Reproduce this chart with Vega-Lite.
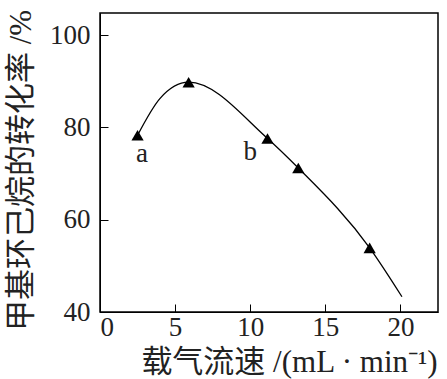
{
  "$schema": "https://vega.github.io/schema/vega-lite/v6.json",
  "autosize": "none",
  "width": 338,
  "height": 299,
  "padding": {"left": 100, "top": 13, "right": 9, "bottom": 67},
  "background": "white",
  "config": {
    "view": {"stroke": "black", "strokeWidth": 1.5},
    "axis": {
      "grid": false,
      "domainColor": "black",
      "tickColor": "black",
      "tickSize": -8,
      "domain": true
    }
  },
  "datasets": {
    "pts": [
      {"x": 2.5, "y": 78.3},
      {"x": 5.9, "y": 89.8},
      {"x": 11.15, "y": 77.6},
      {"x": 13.2, "y": 71.2},
      {"x": 17.95, "y": 53.9}
    ],
    "curve": [
      {"x": 2.5, "y": 78.3},
      {"x": 4.0, "y": 86.3},
      {"x": 5.9, "y": 89.8},
      {"x": 11.15, "y": 77.6},
      {"x": 13.2, "y": 71.2},
      {"x": 17.95, "y": 53.9},
      {"x": 20.1, "y": 43.3}
    ],
    "labels": [
      {"x": 2.8, "y": 74.3, "t": "a"},
      {"x": 10.0, "y": 74.7, "t": "b"}
    ]
  },
  "encoding": {
    "x": {
      "field": "x", "type": "quantitative",
      "scale": {"domain": [0, 22.5], "nice": false, "zero": false},
      "axis": {"values": [0, 5, 10, 15, 20], "title": "载气流速 /(mL · min⁻¹)", "labelFont": "Liberation Serif", "labelFontSize": 27, "labelColor": "#222", "labelPadding": 10, "titleFont": "Liberation Serif, Noto Sans CJK SC", "titleFontSize": 31, "titleFontWeight": "normal", "titleColor": "#222", "titleX": 189, "titleY": 59, "titleAnchor": "middle", "titleBaseline": "alphabetic"}
    },
    "y": {
      "field": "y", "type": "quantitative",
      "scale": {"domain": [40, 104.8], "nice": false, "zero": false},
      "axis": {"values": [40, 60, 80, 100], "title": "甲基环己烷的转化率 /%", "labelFont": "Liberation Serif", "labelFontSize": 27, "labelColor": "#222", "labelPadding": 18, "titleFont": "Liberation Serif, Noto Sans CJK SC", "titleFontSize": 31, "titleFontWeight": "normal", "titleColor": "#222", "titleX": -70, "titleY": 157, "titleAnchor": "middle", "titleBaseline": "alphabetic"}
    }
  },
  "layer": [
    {
      "data": {"name": "curve"},
      "mark": {"type": "line", "interpolate": "monotone", "color": "black", "strokeWidth": 1.3}
    },
    {
      "data": {"name": "pts"},
      "mark": {"type": "point", "shape": "triangle-up", "filled": true, "color": "black", "opacity": 1, "size": 150}
    },
    {
      "data": {"name": "labels"},
      "mark": {"type": "text", "font": "Liberation Serif", "fontSize": 27, "color": "#222", "baseline": "middle", "align": "center"},
      "encoding": {"text": {"field": "t"}}
    }
  ]
}
